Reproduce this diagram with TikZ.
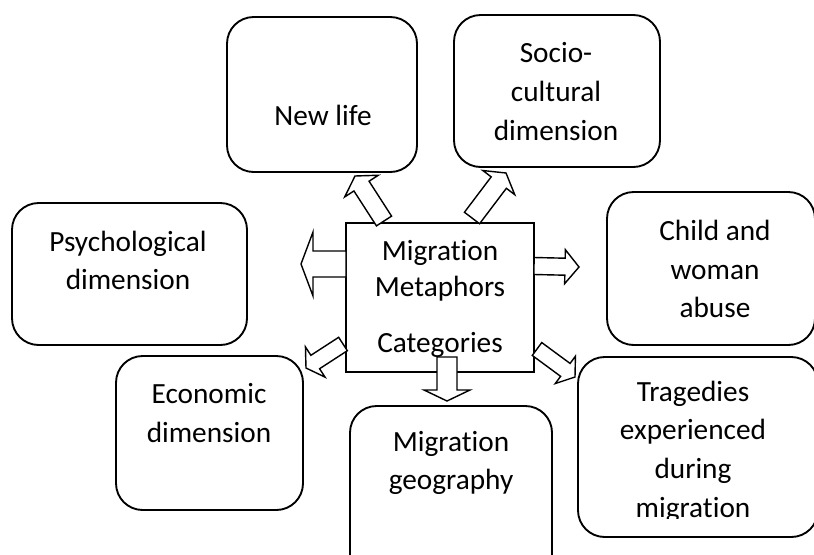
\documentclass[tikz,border=0pt]{standalone}
\usepackage{fontspec}
\setmainfont{Carlito}[Ligatures=NoCommon]
\usetikzlibrary{calc}

% block arrow from #1 to #2: shaft half width #3, head half width #4, head length #5 (pixels)
\newcommand{\blockarrow}[5]{%
  \path ($(#2)!#5*0.03cm!(#1)$) coordinate (hb);
  \draw[blockArrow] ($(#1)!#3*0.03cm!90:(#2)$) -- ($(hb)!#3*0.03cm!-90:(#1)$)
    -- ($(hb)!#4*0.03cm!-90:(#1)$) -- (#2) -- ($(hb)!#4*0.03cm!90:(#1)$)
    -- ($(hb)!#3*0.03cm!90:(#1)$) -- ($(#1)!#3*0.03cm!-90:(#2)$) -- cycle;
}

\begin{document}
\begin{tikzpicture}[x=0.03cm, y=-0.03cm]

  \tikzset{roundBox/.style 2 args={draw, fill=white, line width=1.6pt, rounded corners=0.8cm,
             minimum width=#1*0.03cm, minimum height=#2*0.03cm}};
  \tikzset{centreBox/.style={draw, fill=white, line width=1.6pt,
             minimum width=188*0.03cm, minimum height=149*0.03cm}};
  \tikzset{blockArrow/.style={draw, fill=white, line width=1.2pt, line join=miter}};
  \tikzset{boxText/.style={align=center, inner sep=0pt, font=\fontsize{25}{33}\selectfont}};

  \clip (0,0) rectangle (814,554);

  % boxes
  \node[roundBox={190}{155}] (nl)  at (322,94.5) {};
  \node[roundBox={206}{152}] (sc)  at (557,91)   {};
  \node[roundBox={235}{142}] (psy) at (129.5,274) {};
  \node[roundBox={208}{153}] (cwa) at (711,268.5) {};
  \node[roundBox={187}{154}] (eco) at (209.5,433) {};
  \node[roundBox={202}{194}] (mg)  at (451,503)  {};
  \node[roundBox={240}{180}] (tdm) at (698,447)  {};
  \node[centreBox] (mmc) at (440,297.5) {};

  % arrow ends
  \coordinate (mmc-w)  at (346,264);  \coordinate (psy-in) at (301,264);
  \coordinate (mmc-e)  at (534,266);  \coordinate (cwa-in) at (579,267);
  \coordinate (mmc-s)  at (447,357);  \coordinate (mg-in)  at (447,401);
  \coordinate (mmc-nw) at (384,221);  \coordinate (nl-in)  at (355,176);
  \coordinate (mmc-ne) at (472,218);  \coordinate (sc-in)  at (506,173);
  \coordinate (mmc-sw) at (343,344);  \coordinate (eco-in) at (306,368);
  \coordinate (mmc-se) at (537,349);  \coordinate (tdm-in) at (575,377);

  \blockarrow{mmc-w}{psy-in}{13}{32}{12}
  \blockarrow{mmc-e}{cwa-in}{8.5}{17}{14}
  \blockarrow{mmc-s}{mg-in}{10}{23}{11}
  \blockarrow{mmc-nw}{nl-in}{9}{20}{12}
  \blockarrow{mmc-ne}{sc-in}{9.5}{20}{12}
  \blockarrow{mmc-sw}{eco-in}{8}{18}{11}
  \blockarrow{mmc-se}{tdm-in}{8}{17}{12}

  % texts
  \node[boxText] (nl-t)  at (323,115)   {New life};
  \node[boxText] (sc-t)  at (556,91.5)  {Socio-\\cultural\\dimension};
  \node[boxText] (psy-t) at (128,260.5) {Psychological\\dimension};
  \node[boxText] (cwa-t) at (715,269)   {Child and\\woman\\abuse};
  \node[boxText] (mmc-t) at (440,299)   {Migration\\[-3pt]Metaphors\\[15pt]Categories};
  \node[boxText] (eco-t) at (209,413)   {Economic\\dimension};
  \node[boxText] (mg-t)  at (451,463)   {Migration\\geography};
  \begin{scope}
    \clip (578,357) rectangle (818,518);
    \node[boxText] (tdm-t) at (693,451.5) {Tragedies\\experienced\\during\\migration};
  \end{scope}

\end{tikzpicture}
\end{document}
